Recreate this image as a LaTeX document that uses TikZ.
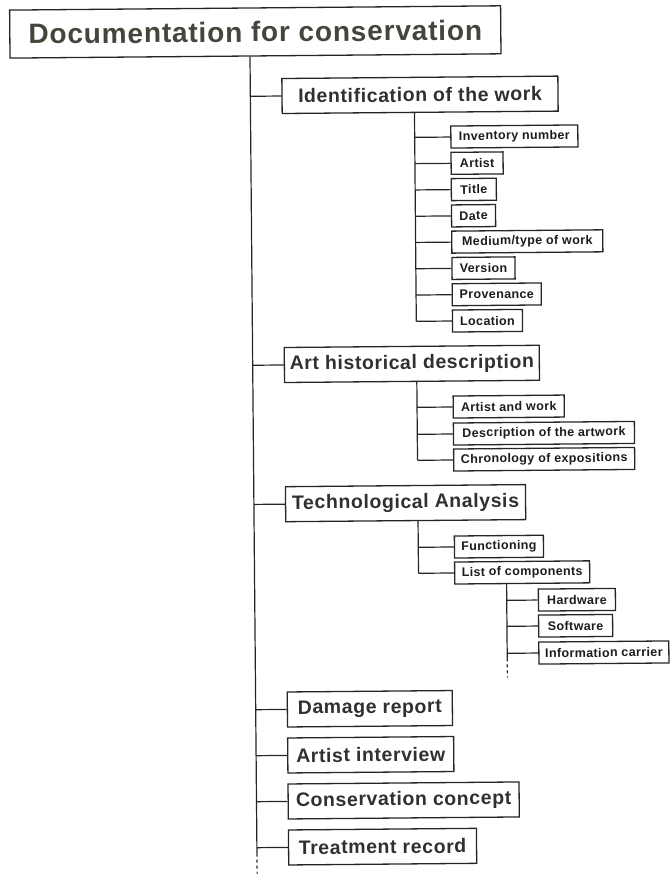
\documentclass[tikz,border=0pt]{standalone}
\usepackage{fontspec}
\setmainfont{Liberation Sans}
\newfontfamily\trackedfont[LetterSpace=3]{Liberation Sans}
\definecolor{inkline}{HTML}{262626}
\definecolor{inktitle}{HTML}{45453C}
\definecolor{inkcat}{HTML}{303030}
\definecolor{inkitem}{HTML}{1C1C1C}
\begin{document}
\begin{tikzpicture}[x=1pt,y=-1pt,
  box/.style={draw=inkline, line width=1.3pt, fill=white, inner sep=0pt, anchor=west},
  titlebox/.style={box, anchor=center, minimum height=48pt, text=inktitle,
    font=\fontsize{28}{32}\selectfont\trackedfont\bfseries},
  catbox/.style={box, minimum height=35pt, text=inkcat,
    font=\fontsize{19.5}{23}\selectfont\trackedfont\bfseries},
  itembox/.style={box, minimum height=22pt, text=inkitem,
    font=\fontsize{12.5}{15}\selectfont\trackedfont\bfseries},
  link/.style={draw=inkline, line width=1.2pt},
  tail/.style={link, dash pattern=on 3pt off 3pt}]
\useasboundingbox (0,0) rectangle (669,874);
\begin{scope}[rotate around={0.5:(250,55)}, transform shape]
  % trunk positions
  \coordinate (mainX) at (250,0);
  \coordinate (subX) at (414,0);
  \coordinate (compX) at (502,0);
  \coordinate (mainEnd) at (250,880);
  \coordinate (compEnd) at (502,680);

  % root
  \node[titlebox, minimum width=491pt] (root) at (255.5,32) {Documentation for conservation};

  % main sections
  \node[catbox, minimum width=276pt] (ident) at (281,96.3) {Identification of the work};
  \node[catbox, minimum width=255pt] (art) at (281,365.3) {Art historical description};
  \node[catbox, minimum width=240pt] (tech) at (281,504.5) {Technological Analysis};
  \node[catbox, minimum width=165pt] (damage) at (281,709.8) {Damage report};
  \node[catbox, minimum width=166pt] (interview) at (281,755.8) {Artist interview};
  \node[catbox, minimum width=231pt] (concept) at (281,801.8) {Conservation concept};
  \node[catbox, minimum width=188pt] (treat) at (281,847.8) {Treatment record};

  % identification items
  \node[itembox, minimum width=127pt] (inv) at (449.5,138.8) {Inventory number};
  \node[itembox, minimum width=52pt] (artist) at (449.5,165.1) {Artist};
  \node[itembox, minimum width=45pt] (title) at (449.5,191.4) {Title};
  \node[itembox, minimum width=44pt] (date) at (449.5,217.7) {Date};
  \node[itembox, minimum width=151pt] (medium) at (449.5,243.9) {Medium/type of work};
  \node[itembox, minimum width=63pt] (version) at (449.5,270.2) {Version};
  \node[itembox, minimum width=89pt] (prov) at (449.5,296.5) {Provenance};
  \node[itembox, minimum width=70pt] (loc) at (449.5,322.8) {Location};

  % art historical items
  \node[itembox, minimum width=111pt] (aw) at (449.5,408.8) {Artist and work};
  \node[itembox, minimum width=181pt] (desc) at (449.5,435.8) {Description of the artwork};
  \node[itembox, minimum width=181pt] (chron) at (449.5,461.8) {Chronology of expositions};

  % technological items
  \node[itembox, minimum width=89pt] (func) at (449.5,548.8) {Functioning};
  \node[itembox, minimum width=135pt] (list) at (449.5,574.8) {List of components};
  \node[itembox, minimum width=77pt] (hw) at (533,602.6) {Hardware};
  \node[itembox, minimum width=74pt] (sw) at (533,628.6) {Software};
  \node[itembox, minimum width=130pt] (info) at (533,655.6) {Information carrier};

  % main trunk
  \draw[link] (root.south -| mainX) -- (treat.west -| mainX) -- ++(0,6);
  \draw[tail] (treat.west -| mainX) ++(0,6) -- (mainEnd);
  \foreach \n in {ident,art,tech,damage,interview,concept,treat}
    \draw[link] (\n.west -| mainX) -- (\n.west);

  % identification branch
  \draw[link] (ident.south -| subX) -- (loc.west -| subX);
  \foreach \n in {inv,artist,title,date,medium,version,prov,loc}
    \draw[link] (\n.west -| subX) -- (\n.west);

  % art historical branch
  \draw[link] (art.south -| subX) -- (chron.west -| subX);
  \foreach \n in {aw,desc,chron}
    \draw[link] (\n.west -| subX) -- (\n.west);

  % technological branch
  \draw[link] (tech.south -| subX) -- (list.west -| subX);
  \foreach \n in {func,list}
    \draw[link] (\n.west -| subX) -- (\n.west);

  % components branch
  \draw[link] (list.south -| compX) -- (info.west -| compX) -- ++(0,5);
  \draw[tail] (info.west -| compX) ++(0,5) -- (compEnd);
  \foreach \n in {hw,sw,info}
    \draw[link] (\n.west -| compX) -- (\n.west);
\end{scope}
\end{tikzpicture}
\end{document}
